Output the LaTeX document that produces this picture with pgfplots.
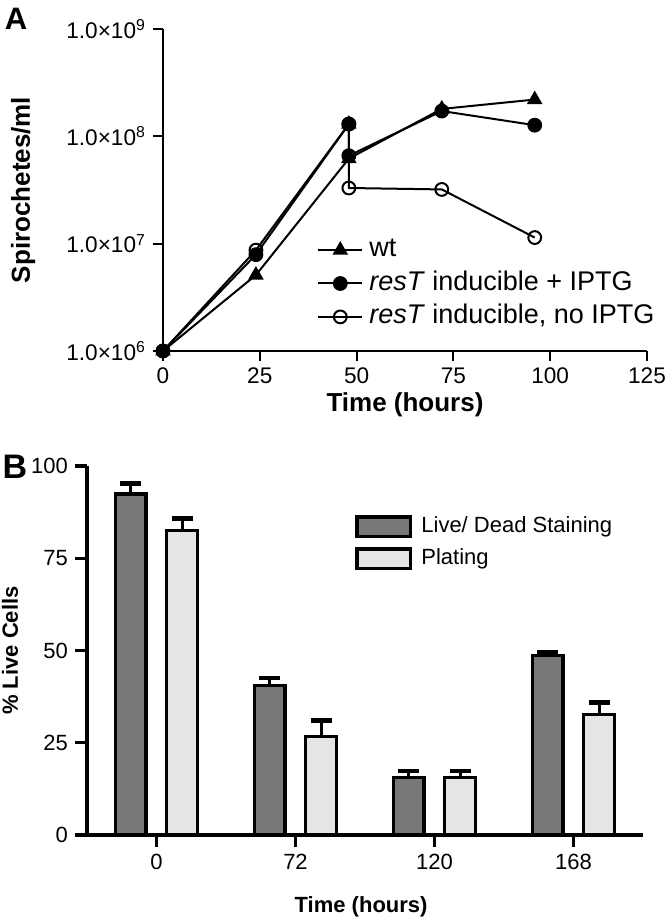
\documentclass[border=0pt]{standalone}
\usepackage{pgfplots}
\pgfplotsset{compat=1.18}
\usepackage{fontspec}
\setmainfont{Liberation Sans}
\definecolor{darkbar}{HTML}{777777}
\definecolor{lightbar}{HTML}{E5E5E5}
\begin{document}
\begin{tikzpicture}[x=1pt,y=1pt]
\path[use as bounding box] (0,0) rectangle (333,459);
\node[font=\fontsize{15.5}{17}\selectfont\bfseries] at (8,449.5) {A};
\node[font=\fontsize{17}{19}\selectfont\bfseries] at (7.5,225.5) {B};
% ---------------- Panel A ----------------
\begin{axis}[
  at={(81.5pt,283.5pt)}, anchor=south west,
  scale only axis, width=242pt, height=161pt,
  xmin=0, xmax=125, ymin=1e6, ymax=1e9, ymode=log,
  axis lines*=left, axis line style={line width=1pt,-},
  xtick={0,25,50,75,100,125}, ytick={1e6,1e7,1e8,1e9},
  yticklabels={1.0×10\textsuperscript{6},1.0×10\textsuperscript{7},1.0×10\textsuperscript{8},1.0×10\textsuperscript{9}},
  yminorticks=false, xminorticks=false,
  tick align=outside, major tick length=5pt, tick style={line width=1pt,black},
  /pgf/number format/assume math mode=true,
  ticklabel style={font=\fontsize{11.3}{13}\selectfont},
  xlabel={Time (hours)}, ylabel={Spirochetes/ml},
  every axis x label/.style={at={(axis description cs:0.5,-0.168)}, anchor=center, font=\fontsize{13}{15}\selectfont\bfseries},
  every axis y label/.style={at={(axis description cs:-0.289,0.5)}, anchor=center, rotate=90, font=\fontsize{13}{15}\selectfont\bfseries},
  clip=false,
  reverse legend,
  legend cell align=left,
  legend image code/.code={\draw[mark repeat=2,mark phase=2,#1] plot coordinates {(0pt,0pt) (11pt,0pt) (22pt,0pt)};},
  legend style={draw=none, fill=none, at={(axis description cs:0.318,0.354)}, anchor=north west, inner sep=0pt, row sep=4.0pt,
    nodes={font=\fontsize{13.5}{15}\selectfont, text height=9.7pt, text depth=3pt, inner ysep=0pt, inner xsep=3pt}},
  every axis plot/.append style={line width=1pt, black},
]
\addplot[mark=o, mark size=3.2pt, mark options={fill=white, solid}] coordinates {
  (0,1e6) (24,8.7e6) (48,1.3e8) (48,3.3e7) (72,3.2e7) (96,1.14e7)};
\addlegendentry{\textit{resT} inducible, no IPTG}
\addplot[mark=*, mark size=3.2pt, mark options={solid}] coordinates {
  (0,1e6) (24,7.9e6) (48,1.3e8) (48,6.6e7) (72,1.72e8) (96,1.27e8)};
\addlegendentry{\textit{resT} inducible + IPTG}
\addplot[mark=triangle*, mark size=3.5pt, mark options={solid}] coordinates {
  (0,1e6) (24,5.1e6) (48,6.2e7) (72,1.8e8) (96,2.2e8)};
\addlegendentry{wt}
\addplot[only marks, mark=triangle*, mark size=3.5pt, forget plot] coordinates {(48,1.3e8)};
\end{axis}
% ---------------- Panel B ----------------
\begin{axis}[
  at={(43.5pt,41.5pt)}, anchor=south west,
  scale only axis, width=278pt, height=184.5pt,
  xmin=-0.5, xmax=3.5, ymin=0, ymax=100,
  axis lines*=left, axis line style={line width=1.7pt,-},
  xtick={0,1,2,3}, xticklabels={0,72,120,168},
  ytick={0,25,50,75,100},
  tick align=outside, major tick length=6pt, tick style={line width=1.7pt,black},
  /pgf/number format/assume math mode=true,
  ticklabel style={font=\fontsize{11}{12}\selectfont},
  xlabel={Time (hours)}, ylabel={\% Live Cells},
  every axis x label/.style={at={(axis description cs:0.493,-0.195)}, anchor=center, font=\fontsize{11}{13}\selectfont\bfseries},
  every axis y label/.style={at={(axis description cs:-0.1385,0.5)}, anchor=center, rotate=90, font=\fontsize{11}{13}\selectfont\bfseries},
  ybar, bar width=15.4pt,
  legend cell align=left,
  legend image code/.code={\draw[#1, line width=1.6pt] (0pt,-4.9pt) rectangle (26.9pt,5pt);},
  legend style={draw=none, fill=none, at={(axis description cs:0.482,0.867)}, anchor=north west, inner sep=0pt, row sep=4.5pt,
    nodes={font=\fontsize{11}{13}\selectfont, text height=8.2pt, text depth=2.6pt, inner ysep=0pt, inner xsep=4.5pt}},
]
\addplot[draw=black, fill=darkbar, line width=1.6pt, bar shift=-12.9pt,
  error bars/.cd, y dir=plus, y explicit,
  error bar style={line width=1.5pt, black},
  error mark options={rotate=90, mark size=5.3pt, line width=2.2pt, black}]
  coordinates {(0,92.4) +- (0,2.9) (1,40.5) +- (0,2.0) (2,15.5) +- (0,1.9) (3,48.6) +- (0,0.9)};
\addlegendentry{Live/ Dead Staining}
\addplot[draw=black, fill=lightbar, line width=1.6pt, bar shift=12.9pt,
  error bars/.cd, y dir=plus, y explicit,
  error bar style={line width=1.5pt, black},
  error mark options={rotate=90, mark size=5.3pt, line width=2.2pt, black}]
  coordinates {(0,82.6) +- (0,3.2) (1,26.8) +- (0,4.2) (2,15.5) +- (0,1.9) (3,32.6) +- (0,3.3)};
\addlegendentry{Plating}
\end{axis}
\end{tikzpicture}
\end{document}
